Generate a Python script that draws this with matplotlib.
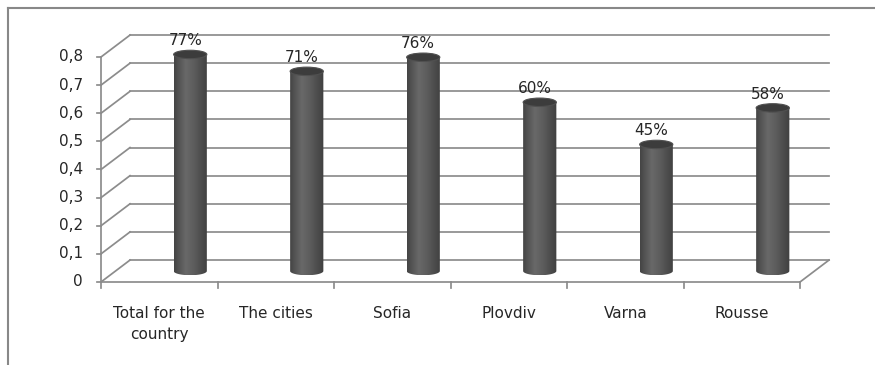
import numpy as np
import matplotlib.pyplot as plt
from matplotlib.path import Path
from matplotlib.patches import PathPatch, Ellipse
from matplotlib.lines import Line2D

plt.rcParams['font.family'] = ['DejaVu Sans']

categories = ['Total for the\ncountry', 'The cities', 'Sofia', 'Plovdiv', 'Varna', 'Rousse']
values = [0.77, 0.71, 0.76, 0.60, 0.45, 0.58]
labels = ['77%', '71%', '76%', '60%', '45%', '58%']
yticks = [0, 0.1, 0.2, 0.3, 0.4, 0.5, 0.6, 0.7, 0.8]

# fake 3d depth (data units)
DX, DY = 0.249, 0.078
CX_OFF, CY_OFF = 0.266, 0.039
CW, EH = 0.285, 0.03
grid_c = '#8c8c8c'
txt_c = '#262626'
lw = 1.25

fig = plt.figure(figsize=(8.75, 3.65), dpi=100)
ax = fig.add_axes([101 / 875, 83 / 365, 699 / 875, 225 / 365])
ax.axis('off')

n = len(categories)

# walls / gridlines
for v in yticks:
    ax.plot([DX, n + DX], [v + DY, v + DY], color=grid_c, lw=lw, clip_on=False, zorder=1)
    ax.plot([0, DX], [v, v + DY], color=grid_c, lw=lw, clip_on=False, zorder=1)
    ax.plot([-0.035, 0], [v, v], color=grid_c, lw=lw, clip_on=False, zorder=1)
    s = '0' if v == 0 else f'{v:.1f}'.replace('.', ',')
    ax.text(-0.155, v, s, ha='right', va='center', fontsize=11, color=txt_c)
ax.plot([n, n + DX], [0, DY], color=grid_c, lw=lw, clip_on=False, zorder=1)
ax.plot([0, 0], [0, yticks[-1]], color=grid_c, lw=lw, clip_on=False, zorder=1)
ax.plot([0, n], [0, 0], color=grid_c, lw=lw, clip_on=False, zorder=1)
for i in range(n + 1):
    ax.plot([i, i], [0, -0.022], color=grid_c, lw=lw, clip_on=False, zorder=1)

# cylinder shading profile
prof_x = np.array([0.0, 0.12, 0.35, 0.6, 0.85, 1.0])
prof_c = np.array([0.27, 0.32, 0.41, 0.36, 0.29, 0.25])
xs = np.linspace(0, 1, 64)
shade = np.interp(xs, prof_x, prof_c)
grad = np.dstack([shade, shade, shade]).reshape(1, 64, 3)

for i, (v, lab) in enumerate(zip(values, labels)):
    cx = i + 0.5 + CX_OFF
    base = CY_OFF
    top = v + CY_OFF
    a, b = CW / 2, EH / 2
    t = np.linspace(np.pi, 2 * np.pi, 40)
    pts = [(cx - a, top), (cx - a, base)]
    pts += list(zip(cx + a * np.cos(t), base + b * np.sin(t)))
    pts += [(cx + a, top), (cx - a, top)]
    body = PathPatch(Path(pts), facecolor='none', edgecolor='none', transform=ax.transData)
    im = ax.imshow(grad, extent=[cx - a, cx + a, base - b, top], aspect='auto',
                   interpolation='bilinear', zorder=3)
    im.set_clip_path(body)
    im.set_clip_box(None)
    ax.add_patch(Ellipse((cx, top), CW, EH, facecolor='#3c3c3c', edgecolor='#505050',
                         lw=0.8, zorder=4, clip_on=False))
    ax.annotate(lab, (cx, top), xytext=(-3.6, 10), textcoords='offset points',
                ha='center', va='center', fontsize=11, color=txt_c, zorder=5,
                annotation_clip=False)

for i, c in enumerate(categories):
    ax.annotate(c, (i + 0.5, 0), xytext=(0, -17), textcoords='offset points',
                ha='center', va='top', fontsize=11, color=txt_c, linespacing=1.55,
                annotation_clip=False)

ax.set_xlim(0, n)
ax.set_ylim(0, yticks[-1])

# outer frame
fig.add_artist(Line2D([8 / 875, 1], [1 - 8 / 365, 1 - 8 / 365], color='#888888', lw=1.5))
fig.add_artist(Line2D([8 / 875, 8 / 875], [0, 1 - 8 / 365], color='#888888', lw=1.5))

fig.savefig('out.png', dpi=100)
